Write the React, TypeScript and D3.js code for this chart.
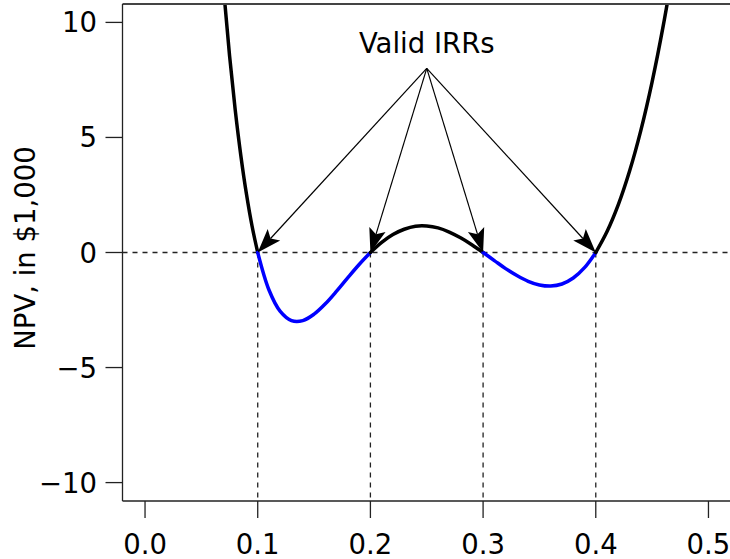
import React from "react";
import * as d3 from "d3";

// NPV (in $1,000) at each discount rate
const rates = [
  0.06, 0.065, 0.07, 0.075, 0.08, 0.085, 0.09, 0.095, 0.1,
  0.11, 0.12, 0.13, 0.14, 0.15, 0.16, 0.17, 0.18, 0.19, 0.2,
  0.21, 0.22, 0.23, 0.24, 0.25, 0.26, 0.27, 0.28, 0.29, 0.3,
  0.31, 0.32, 0.33, 0.34, 0.35, 0.36, 0.37, 0.38, 0.39, 0.4,
  0.41, 0.42, 0.43, 0.44, 0.45, 0.46, 0.47,
];
const npv = [
  18.1, 14.46, 11.29, 8.56, 6.21, 4.22, 2.54, 1.14, 0,
  -1.63, -2.56, -2.96, -2.96, -2.68, -2.23, -1.68, -1.09, -0.52, 0,
  0.44, 0.78, 1.01, 1.14, 1.15, 1.07, 0.89, 0.64, 0.34, 0,
  -0.35, -0.7, -1.0, -1.25, -1.41, -1.46, -1.37, -1.11, -0.66, 0,
  0.91, 2.08, 3.54, 5.31, 7.42, 9.89, 12.73,
];
const irrs = [0.1, 0.2, 0.3, 0.4];
const xTicks = [0, 0.1, 0.2, 0.3, 0.4, 0.5];
const yTicks = [-10, -5, 0, 5, 10];
const labelPoint = { rate: 0.25, value: 8 };

const W = 730;
const H = 559;
const left = 122.5, right = 731, top = 4, bottom = 501;
const font = "'DejaVu Sans', sans-serif";
const fs = 27.5;

const App: React.FC = () => {
  const x = d3.scaleLinear().domain([-0.02, 0.52]).range([left, right]);
  const y = d3.scaleLinear().domain([-10.8, 10.8]).range([bottom, top]);

  // split the curve where NPV changes sign: black above zero, blue below
  const pts = rates.map((r, i) => ({ r, v: npv[i] }));
  const segments: { sign: number; p: { r: number; v: number }[] }[] = [];
  let cur: { sign: number; p: { r: number; v: number }[] } | null = null;
  pts.forEach((pt) => {
    const s = Math.sign(pt.v);
    if (s === 0) {
      if (cur) cur.p.push(pt);
      cur = { sign: 0, p: [pt] };
      segments.push(cur);
      return;
    }
    if (!cur) {
      cur = { sign: s, p: [pt] };
      segments.push(cur);
    } else if (cur.sign === 0 || cur.sign === s) {
      cur.sign = s;
      cur.p.push(pt);
    } else {
      cur = { sign: s, p: [pt] };
      segments.push(cur);
    }
  });

  const line = d3
    .line<{ r: number; v: number }>()
    .x((d) => x(d.r))
    .y((d) => y(d.v))
    .curve(d3.curveCatmullRom.alpha(0.5));

  const ox = x(labelPoint.rate);
  const oy = y(labelPoint.value);

  return (
    <svg
      width={W}
      height={H}
      style={{ position: "absolute", left: 0, top: 0, background: "#fff" }}
    >
      <defs>
        <clipPath id="plot">
          <rect x={left} y={top} width={right - left} height={bottom - top} />
        </clipPath>
      </defs>

      {/* zero line and IRR drop lines */}
      <line x1={left} x2={right} y1={y(0)} y2={y(0)} stroke="#222" strokeWidth={1.3} strokeDasharray="5,5" />
      {irrs.map((r) => (
        <line key={r} x1={x(r)} x2={x(r)} y1={y(0)} y2={bottom} stroke="#222" strokeWidth={1.3} strokeDasharray="5,5" />
      ))}

      <g clipPath="url(#plot)">
        {segments.map((s, i) => (
          <path
            key={i}
            d={line(s.p) || ""}
            fill="none"
            stroke={s.sign < 0 ? "#0000ff" : "#000"}
            strokeWidth={3.5}
            strokeLinecap="round"
          />
        ))}
      </g>

      {/* arrows to each valid IRR */}
      {irrs.map((r) => {
        const tx = x(r);
        const ty = y(0);
        const a = Math.atan2(ty - oy, tx - ox);
        const len = 24, half = 8.5, notch = 19;
        const bx = tx - len * Math.cos(a);
        const by = ty - len * Math.sin(a);
        const nx = tx - notch * Math.cos(a);
        const ny = ty - notch * Math.sin(a);
        const px = -Math.sin(a), py = Math.cos(a);
        const head = [
          [tx, ty],
          [bx + half * px, by + half * py],
          [nx, ny],
          [bx - half * px, by - half * py],
        ];
        return (
          <g key={r}>
            <line x1={ox} y1={oy} x2={nx} y2={ny} stroke="#000" strokeWidth={1.2} />
            <polygon points={head.map((p) => p.join(",")).join(" ")} fill="#000" />
          </g>
        );
      })}
      <text x={ox} y={53} textAnchor="middle" fontFamily={font} fontSize={fs}>
        Valid IRRs
      </text>

      {/* box top and axes */}
      <line x1={left} x2={right} y1={top} y2={top} stroke="#444" strokeWidth={1.8} />
      <line x1={left} x2={left} y1={top} y2={bottom} stroke="#222" strokeWidth={1.3} />
      <line x1={left} x2={right} y1={bottom} y2={bottom} stroke="#222" strokeWidth={1.3} />

      {yTicks.map((t) => (
        <g key={t}>
          <line x1={left - 17} x2={left} y1={y(t)} y2={y(t)} stroke="#222" strokeWidth={1.3} />
          <text x={97} y={y(t) + 10} textAnchor="end" fontFamily={font} fontSize={fs}>
            {t < 0 ? "\u2212" + Math.abs(t) : t}
          </text>
        </g>
      ))}
      {xTicks.map((t) => (
        <g key={t}>
          <line x1={x(t)} x2={x(t)} y1={bottom} y2={bottom + 17} stroke="#222" strokeWidth={1.3} />
          <text x={x(t)} y={554} textAnchor="middle" fontFamily={font} fontSize={fs}>
            {t.toFixed(1)}
          </text>
        </g>
      ))}

      <text
        transform={`translate(35,248) rotate(-90)`}
        textAnchor="middle"
        fontFamily={font}
        fontSize={fs}
      >
        NPV, in $1,000
      </text>
    </svg>
  );
};

export default App;
